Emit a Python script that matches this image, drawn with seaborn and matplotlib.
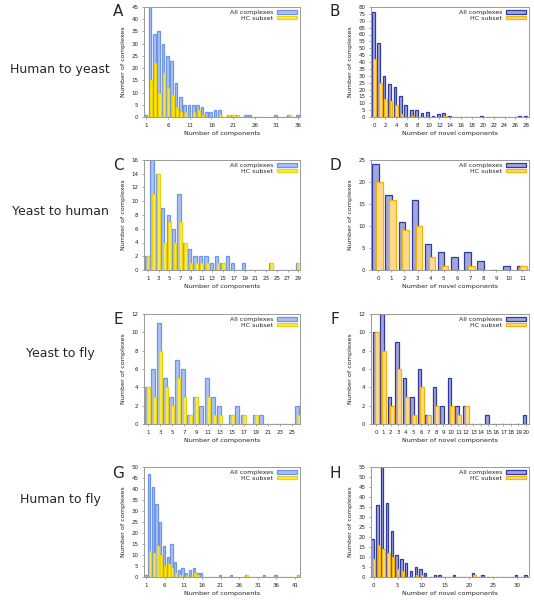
import numpy as np
import pandas as pd
import seaborn as sns
import matplotlib.pyplot as plt
from matplotlib.patches import Patch

sns.set_style("white")
plt.rcParams['font.family'] = ['DejaVu Sans']

# ---- data ----
row_labels = ["Human to yeast", "Yeast to human", "Yeast to fly", "Human to fly"]
panel_letters = ["A", "B", "C", "D", "E", "F", "G", "H"]
series_labels = ["All complexes", "HC subset"]

A_pos = list(range(1, 37))
A_all = [1, 45, 34, 35, 30, 25, 23, 14, 8, 5, 5, 5, 5, 4, 2, 2, 3, 3, 0, 1, 1, 1, 0, 1, 1, 0, 0, 0, 0, 0, 1, 0, 0, 1, 0, 1]
A_hc = [0, 15, 22, 10, 18, 12, 9, 4, 2, 2, 0, 2, 3, 1, 0, 0, 0, 1, 0, 1, 1, 1, 0, 0, 0, 0, 0, 0, 0, 0, 0, 0, 0, 1, 0, 0]

B_pos = list(range(0, 29))
B_all = [76, 54, 30, 24, 22, 15, 9, 5, 5, 3, 4, 1, 2, 3, 1, 0, 0, 0, 0, 0, 1, 0, 0, 0, 0, 0, 0, 1, 1]
B_hc = [42, 25, 13, 12, 9, 2, 0, 1, 0, 0, 0, 0, 0, 1, 0, 0, 0, 0, 0, 0, 0, 0, 0, 0, 0, 0, 0, 0, 0]

C_pos = list(range(1, 30))
C_all = [2, 16, 14, 9, 8, 6, 11, 4, 3, 2, 2, 2, 1, 2, 1, 2, 1, 0, 1, 0, 0, 0, 0, 1, 0, 0, 0, 0, 1]
C_hc = [2, 11, 14, 4, 7, 4, 7, 4, 1, 1, 1, 1, 0, 1, 1, 0, 0, 0, 0, 0, 0, 0, 0, 1, 0, 0, 0, 0, 1]

D_pos = list(range(0, 12))
D_all = [24, 17, 11, 16, 6, 4, 3, 4, 2, 0, 1, 1]
D_hc = [20, 16, 9, 10, 3, 1, 0, 1, 0, 0, 0, 1]

E_pos = list(range(1, 27))
E_all = [4, 6, 11, 5, 3, 7, 6, 1, 3, 2, 5, 3, 2, 0, 1, 2, 1, 0, 1, 1, 0, 0, 0, 0, 0, 2]
E_hc = [4, 3, 8, 4, 2, 5, 3, 1, 3, 0, 3, 1, 1, 0, 1, 0, 1, 0, 1, 0, 0, 0, 0, 0, 0, 1]

F_pos = list(range(0, 21))
F_all = [10, 12, 3, 9, 5, 3, 6, 1, 4, 2, 5, 2, 2, 0, 0, 1, 0, 0, 0, 0, 1]
F_hc = [10, 8, 2, 6, 3, 1, 4, 1, 2, 0, 2, 1, 2, 0, 0, 0, 0, 0, 0, 0, 0]

G_pos = list(range(1, 43))
G_all = [1, 47, 41, 33, 25, 14, 9, 15, 7, 3, 4, 2, 3, 4, 2, 2, 0, 0, 0, 0, 1, 0, 0, 1, 0, 0, 0, 1,
         0, 0, 0, 0, 1, 0, 0, 1, 0, 0, 0, 0, 0, 1]
G_hc = [0, 12, 11, 14, 10, 5, 6, 4, 2, 1, 0, 1, 0, 2, 1, 0, 0, 0, 0, 0, 0, 0, 0, 0, 0, 0, 0, 1,
        0, 0, 0, 0, 0, 0, 0, 0, 0, 0, 0, 0, 0, 1]

H_pos = list(range(0, 33))
H_all = [19, 36, 55, 37, 23, 11, 9, 7, 3, 5, 4, 2, 0, 1, 1, 0, 0, 1, 0, 0, 0, 2, 0, 1, 0, 0, 0, 0, 0, 0, 1, 0, 1]
H_hc = [9, 16, 14, 12, 10, 4, 3, 0, 0, 1, 1, 0, 0, 0, 0, 0, 0, 0, 0, 0, 0, 1, 0, 0, 0, 0, 0, 0, 0, 0, 0, 0, 0]

# colours: (fill, edge)
left_cols = [('#aac1f3', '#6e95e6'), ('#f8e96a', '#f0d400')]
right_cols = [('#a3a6da', '#2f3ba3'), ('#ffda8e', '#f6b400')]

panels = [
    # pos, all, hc, xlim, xticks, ylim, ystep, xlabel, colours
    (A_pos, A_all, A_hc, (0.45, 36.4), range(1, 37, 5), 45, 5, "Number of components", left_cols),
    (B_pos, B_all, B_hc, (-0.6, 28.5), range(0, 29, 2), 80, 5, "Number of novel components", right_cols),
    (C_pos, C_all, C_hc, (0.3, 29.3), range(1, 30, 2), 16, 2, "Number of components", left_cols),
    (D_pos, D_all, D_hc, (-0.55, 11.5), range(0, 12), 25, 5, "Number of novel components", right_cols),
    (E_pos, E_all, E_hc, (0.3, 26.3), range(1, 27, 2), 12, 2, "Number of components", left_cols),
    (F_pos, F_all, F_hc, (-0.65, 20.4), range(0, 21), 12, 2, "Number of novel components", right_cols),
    (G_pos, G_all, G_hc, (0.4, 42.4), range(1, 42, 5), 50, 5, "Number of components", left_cols),
    (H_pos, H_all, H_hc, (-0.55, 32.5), range(0, 31, 5), 55, 5, "Number of novel components", right_cols),
]

fig = plt.figure(figsize=(5.34, 6.0), dpi=100)

W, H = 534, 600
lefts = [144, 371]
widths = [156, 158]
tops = [7, 160, 314, 467]
ax_h = 110

for i, (pos, all_v, hc_v, xlim, xticks, ytop, ystep, xlabel, cols) in enumerate(panels):
    r, c = divmod(i, 2)
    ax = fig.add_axes([lefts[c] / W, 1 - (tops[r] + ax_h) / H, widths[c] / W, ax_h / H])
    df = pd.DataFrame({'pos': np.array(pos), 'all': all_v, 'hc': hc_v})
    if c == 0:
        w_all, w_hc, off_all, off_hc = 0.62, 0.52, -0.2, 0.05
    else:
        w_all, w_hc, off_all, off_hc = 0.5, 0.5, -0.2, 0.1
    sns.barplot(x=df['pos'] + off_all, y=df['all'], native_scale=True, width=w_all,
                color=cols[0][0], edgecolor=cols[0][1], linewidth=0.9, saturation=1,
                errorbar=None, ax=ax)
    sns.barplot(x=df['pos'] + off_hc, y=df['hc'], native_scale=True, width=w_hc,
                color=cols[1][0], edgecolor=cols[1][1], linewidth=0.9, saturation=1,
                errorbar=None, ax=ax)
    ax.set_xlim(*xlim)
    ax.set_ylim(0, ytop)
    ax.set_xticks(list(xticks))
    ax.set_xticklabels([str(t) for t in xticks])
    ax.set_yticks(np.arange(0, ytop + 1, ystep))
    ax.tick_params(labelsize=4, length=1.5, width=0.5, color='#888888', pad=2.5,
                   direction='out', bottom=True, left=True, labelcolor='#222222')
    for s in ax.spines.values():
        s.set_color('#999999')
        s.set_linewidth(0.7)
    ax.set_xlabel(xlabel, fontsize=4.6, labelpad=2.5, color='#222222')
    ax.set_ylabel("Number of complexes", fontsize=4.6, labelpad=4, color='#222222')
    handles = [Patch(facecolor=cols[0][0], edgecolor=cols[0][1], linewidth=0.9),
               Patch(facecolor=cols[1][0], edgecolor=cols[1][1], linewidth=0.9)]
    ax.legend(handles, series_labels, loc='upper right', markerfirst=False, frameon=False,
              fontsize=4.5, handlelength=3.2, handleheight=0.55, labelspacing=0.05,
              handletextpad=0.6, borderaxespad=0.2, borderpad=0.3)
    # panel letter
    lx = [118, 335][c]
    ly = tops[r] + 6 if r > 0 else 12
    fig.text(lx / W, 1 - ly / H, panel_letters[i], fontsize=11, ha='center', va='center')

row_y = [70, 212, 354, 499]
for lab, y in zip(row_labels, row_y):
    fig.text(60 / W, 1 - y / H, lab, fontsize=9, ha='center', va='center')

fig.savefig("out.png", dpi=100)
